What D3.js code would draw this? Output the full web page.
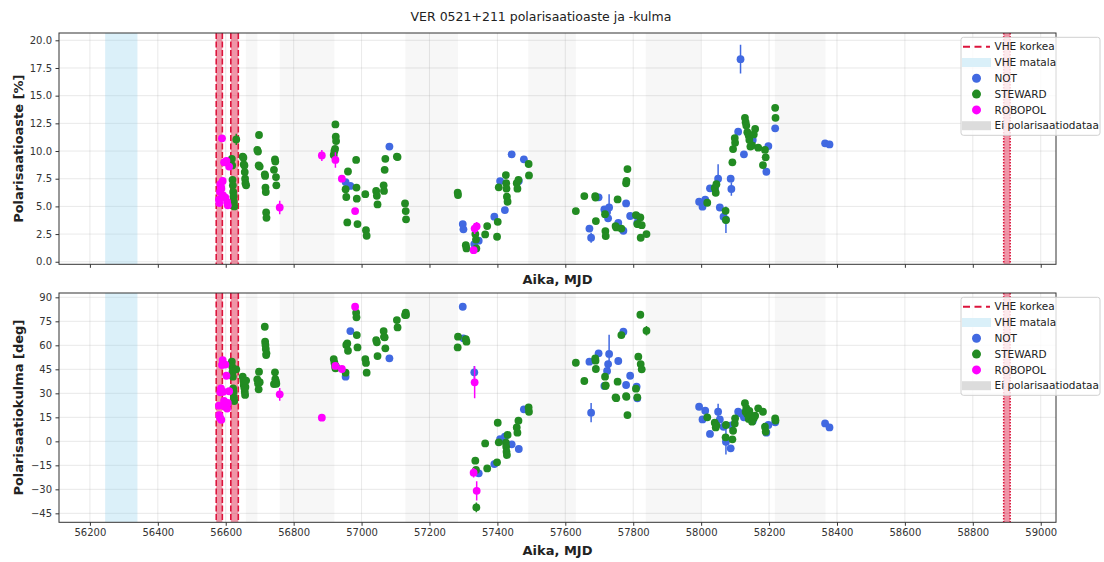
<!DOCTYPE html>
<html><head><meta charset="utf-8">
<script src="https://cdn.jsdelivr.net/npm/d3@7/dist/d3.min.js"></script>
<style>body{margin:0;background:#fff;} svg{display:block;font-family:"DejaVu Sans",sans-serif;}</style>
</head><body><svg id="c" width="1104" height="562"></svg>
<script>
// ---------- DATA ----------
const title = "VER 0521+211 polarisaatioaste ja -kulma";
const xTicks = d3.range(56200, 59001, 200);
const pdTicks = [0, 2.5, 5, 7.5, 10, 12.5, 15, 17.5, 20];
const paTicks = [-45, -30, -15, 0, 15, 30, 45, 60, 75, 90];
const vheHigh = [[56572, 56590], [56615, 56637], [58891, 58910]];
const vheLow = [[56245, 56340]];
const noData = [[56659, 56693], [56759, 56883], [56883, 56920], [57129, 57284], [57491, 57631], [57837, 57998], [58217, 58366]];
// rows: [MJD, pol. degree %, err, pol. angle deg, err]
const notData = [
 [56953,7.2,0.2,40.4,1.5],[56967,6.85,0.2,68.9,1.5],[57082,10.4,0.2,51.9,1.5],
 [57298,3.4,0.2,84.1,2],[57300,2.93,0.2,64.4,2],[57332,1.6,0.3,43.1,4],[57345,1.9,0.2,-20,2],
 [57391,4.07,0.2,-14.2,1.5],[57408,7.29,0.2,1.4,1.5],[57422,4.67,0.2,2.9,1.5],[57442,9.7,0.2,-1.9,1.5],
 [57463,7.3,0.2,-4.8,1.5],[57478,9.25,0.2,20,1.5],[57671,3.0,0.2,49.8,1.5],[57676,2.17,0.45,17.9,6],
 [57698,5.82,0.2,55,1.5],[57715,4.73,0.3,34.6,2],[57723,4.5,0.3,44,2],[57726,3.92,0.3,48.3,2],
 [57729,4.9,1.2,54.6,12],[57756,3.52,0.2,50.2,1.5],[57771,2.8,0.2,68.5,2],[57779,5.27,0.2,35.2,1.5],
 [57791,4.13,0.2,41,1.5],[57810,4.13,0.2,34.1,1.5],[57812,3.5,0.2,26.9,1.5],
 [57994,5.42,0.2,21.6,1.5],[58004,4.97,0.2,13.7,1.5],[58012,5.6,0.2,19.1,1.5],[58026,6.63,0.2,4.6,1.5],
 [58050,7.5,1.3,18.5,5],[58055,4.9,0.2,13.7,1.5],[58066,4.07,0.2,9.1,1.5],[58073,3.8,1.2,-0.3,8],
 [58087,7.5,0.3,-4.4,1.5],[58089,6.57,0.6,10,2],[58109,11.75,0.2,18.5,1.5],[58116,18.3,1.3,17.5,2],
 [58126,9.7,0.2,15,1.5],[58152,11.0,0.2,12.7,1.5],[58192,8.13,0.2,5.4,1.5],[58198,10.45,0.2,10.2,1.5],
 [58218,12.05,0.2,11.9,1.5],[58365,10.7,0.2,11.2,1.5],[58378,10.6,0.2,8.7,1.5]
];
const stewardData = [
 [56618,9.3,0.2,49.8,1.5],[56619,8.7,0.2,46.7,1.5],[56620,7.4,0.2,43.5,1.5],[56621,6.9,0.2,40.4,1.5],
 [56622,6.3,0.2,33.1,1.5],[56623,5.9,0.2,31.0,1.5],[56624,5.4,0.2,27.5,1.5],[56625,5.0,0.2,25.2,1.5],
 [56631,11.05,0.5,45,1.5],
 [56650,9.5,0.2,40.4,1.5],[56652,9.4,0.2,37.9,1.5],[56653,8.8,0.2,35.2,1.5],[56655,8.7,0.2,33.1,1.5],
 [56656,8.1,0.2,31.0,1.5],[56657,7.5,0.2,29.0,1.5],[56658,7.1,0.2,34,1.5],[56660,6.9,0.2,38,1.5],
 [56693,10.1,0.2,38.7,1.5],[56695,9.95,0.2,36.2,1.5],[56697,8.7,0.2,32.5,1.5],[56698,11.45,0.2,43.5,1.5],
 [56700,8.6,0.2,37,1.5],[56715,7.9,0.2,71.6,1.5],[56716,7.75,0.2,62.3,1.5],[56717,6.7,0.2,60.2,1.5],
 [56718,6.3,0.2,57.7,1.5],[56719,4.45,0.2,53.9,1.5],[56720,3.97,0.2,55,1.5],
 [56742,8.3,0.2,35.8,1.5],[56745,9.25,0.2,43.1,1.5],[56746,9.05,0.2,38.8,1.5],[56748,7.65,0.2,37.3,1.5],
 [56749,6.9,0.2,36,1.5],
 [56918,9.65,0.2,51.4,1.5],[56920,10.0,0.2,49.1,1.5],[56922,10.2,0.2,47.3,1.5],[56923,12.4,0.2,45.6,1.5],
 [56924,11.3,0.2,47,1.5],[56925,10.9,0.2,46,1.5],
 [56953,6.55,0.2,42.9,1.5],[56955,5.85,0.2,60.2,1.5],[56958,3.55,0.2,61.2,1.5],[56960,8.15,0.2,56.6,1.5],
 [56984,9.2,0.2,80.4,1.5],[56985,6.7,0.2,77.5,1.5],[56986,5.7,0.2,66.4,1.5],[56988,3.4,0.2,58.7,1.5],
 [57011,6.1,0.2,51.4,1.5],[57013,2.85,0.2,49.0,1.5],[57015,2.35,0.2,42.9,1.5],
 [57043,6.4,0.2,63.3,1.5],[57045,5.95,0.2,61.9,1.5],[57047,5.18,0.2,53.3,1.5],
 [57065,6.9,0.2,68.9,1.5],[57066,6.4,0.2,65.3,1.5],[57068,8.3,0.2,65,1.5],[57070,9.3,0.2,58.1,1.5],
 [57104,9.5,0.2,75.8,1.5],[57106,9.45,0.2,71.2,1.5],
 [57128,5.27,0.2,78.9,1.5],[57130,4.58,0.2,80.4,1.5],[57131,3.83,0.2,79,1.5],
 [57283,6.23,0.2,58.7,1.5],[57284,6.03,0.2,65.4,1.5],[57307,1.5,0.2,63.8,1.5],[57309,1.2,0.2,62.3,1.5],
 [57335,2.5,0.2,-12.1,1.5],[57337,2.0,0.2,-17.9,1.5],[57338,1.2,0.2,-41.3,3],
 [57364,2.47,0.2,-1.3,1.5],[57370,3.22,0.2,-16.9,1.5],[57399,2.26,0.2,-13.1,1.5],[57401,3.61,0.2,11.6,1.5],
 [57404,6.72,0.2,-0.6,1.5],[57425,7.83,0.2,-0.9,1.5],[57426,7.1,0.2,-3.4,1.5],[57427,6.6,0.2,-6.5,1.5],
 [57428,5.87,0.2,-8.6,1.5],[57430,5.42,0.2,4,1.5],[57457,7.1,0.2,8.7,1.5],[57459,6.6,0.2,5.4,1.5],
 [57462,7.4,0.2,12.9,1.5],[57492,8.83,0.2,21.2,1.5],[57493,7.8,0.2,18.5,1.5],
 [57631,4.58,0.2,49.1,1.5],[57656,5.93,0.2,37.7,1.5],[57688,5.93,0.2,51.9,1.5],[57689,5.8,0.2,50.4,1.5],
 [57690,3.67,0.2,45.2,1.5],[57717,4.3,0.2,40.4,1.5],[57718,2.77,0.2,34.6,1.5],[57719,2.32,0.2,35,1.5],
 [57748,3.22,0.2,27.5,1.5],[57750,3.1,0.2,27,1.5],[57754,5.63,0.2,37.3,1.5],[57765,3.0,0.2,66.4,1.5],
 [57779,7.08,0.2,28.3,1.5],[57780,7.3,0.2,27.8,1.5],[57783,8.37,0.2,16.4,1.5],
 [57808,4.22,0.2,32.9,1.5],[57812,3.4,0.2,27.5,1.5],[57815,3.4,0.2,52.9,1.5],[57821,4.0,0.2,79.1,1.5],
 [57822,2.17,0.2,48.3,1.5],[57825,3.3,0.2,45.0,1.5],[57839,2.5,0.2,69.1,3],
 [58018,5.33,0.2,15.0,1.5],[58040,6.66,0.2,11.6,1.5],[58043,6.23,0.2,8.7,1.5],[58045,7.0,0.2,10,1.5],
 [58072,4.6,0.2,2.5,1.5],[58073,3.77,0.2,10.2,1.5],[58092,8.98,0.2,1.25,1.5],[58094,10.18,0.2,6.6,1.5],
 [58099,11.17,0.2,11.2,1.5],[58100,10.75,0.2,14.4,1.5],
 [58129,13.0,0.2,23.8,1.5],[58131,12.6,0.2,18.5,1.5],[58133,12.3,0.2,20.8,1.5],[58136,11.7,0.2,17,1.5],
 [58140,11.4,0.2,14,1.5],[58142,11.0,0.2,19,1.5],[58145,10.4,0.2,16,1.5],[58150,10.5,0.2,12.3,1.5],
 [58155,11.5,0.2,14.5,1.5],[58159,12.0,0.2,16,1.5],[58168,10.3,0.2,20.6,1.5],[58182,8.73,0.2,18.5,1.5],
 [58188,10.1,0.2,9.1,1.5],[58190,9.43,0.2,6,1.5],[58218,13.9,0.2,14.4,1.5],[58219,13.0,0.2,13,1.5]
];
const robopolData = [
 [56580,5.6,0.2,22.3,1.5],[56581,5.3,0.2,16.4,1.5],[56583,6.3,0.2,14.8,1.5],[56584,7.0,0.2,30.6,1.5],
 [56586,6.8,0.2,33.1,1.5],[56587,6.6,0.2,13.5,1.5],[56589,11.15,0.2,47.7,1.5],[56591,7.3,0.2,50.8,1.5],
 [56592,6.0,0.2,31,1.5],[56595,8.98,0.2,25.2,1.5],[56598,9.0,0.2,21.6,1.5],[56599,5.8,0.2,48,1.5],
 [56602,9.1,0.3,41.0,1.5],[56604,5.4,0.2,20.5,1.5],[56606,5.1,0.2,24,1.5],[56610,8.6,0.3,31.3,1.5],
 [56759,4.9,0.6,29.4,4],[56883,9.6,0.5,14.8,1.5],[56923,9.2,0.7,47.1,1.5],[56942,7.5,0.2,45.2,1.5],
 [56981,4.58,0.2,84.1,1.5],[57330,1.05,0.2,-19.6,3],[57333,3.0,0.5,36.9,10],[57339,3.2,0.4,-30.9,6]
];
const series = [
 {name: "NOT", color: "#4169e1", rows: notData},
 {name: "STEWARD", color: "#228b22", rows: stewardData},
 {name: "ROBOPOL", color: "#ff00ff", rows: robopolData}
];

// ---------- CHART ----------
const svg = d3.select("#c");
const L = 59, R = 1056;
const x = d3.scaleLinear().domain([56109, 59045]).range([L, R]);
const panels = [
 {top: 33, bottom: 264.3, y: d3.scaleLinear().domain([-0.23, 20.66]).range([264.3, 33]),
  ticks: pdTicks, fmt: d3.format(".1f"), col: 1, ecol: 2, label: "Polarisaatioaste [%]", showX: false, xlabY: 284},
 {top: 293, bottom: 522.3, y: d3.scaleLinear().domain([-50.6, 92.7]).range([522.3, 293]),
  ticks: paTicks, fmt: d => (d < 0 ? "\u2212" + Math.abs(d) : "" + d), col: 3, ecol: 4, label: "Polarisaatiokulma [deg]", showX: true, xlabY: 555}
];

svg.append("text").attr("x", 541).attr("y", 21).attr("text-anchor", "middle")
  .attr("font-size", 12.5).attr("fill", "#222").text(title);

panels.forEach((p, i) => {
  const g = svg.append("g");
  const clipId = "clip" + i;
  svg.append("clipPath").attr("id", clipId).append("rect")
    .attr("x", L).attr("y", p.top).attr("width", R - L).attr("height", p.bottom - p.top);
  const inner = g.append("g").attr("clip-path", `url(#${clipId})`);
  // grid
  inner.selectAll(".gx").data(xTicks).join("line")
    .attr("x1", d => x(d)).attr("x2", d => x(d)).attr("y1", p.top).attr("y2", p.bottom)
    .attr("stroke", "#b0b0b0").attr("stroke-opacity", 0.35).attr("stroke-width", 0.8);
  inner.selectAll(".gy").data(p.ticks).join("line")
    .attr("x1", L).attr("x2", R).attr("y1", d => p.y(d)).attr("y2", d => p.y(d))
    .attr("stroke", "#b0b0b0").attr("stroke-opacity", 0.35).attr("stroke-width", 0.8);
  // bands
  inner.selectAll(".nd").data(noData).join("rect")
    .attr("x", d => x(d[0])).attr("width", d => x(d[1]) - x(d[0]))
    .attr("y", p.top).attr("height", p.bottom - p.top).attr("fill", "#808080").attr("fill-opacity", 0.065);
  inner.selectAll(".vl").data(vheLow).join("rect")
    .attr("x", d => x(d[0])).attr("width", d => x(d[1]) - x(d[0]))
    .attr("y", p.top).attr("height", p.bottom - p.top).attr("fill", "#87ceeb").attr("fill-opacity", 0.3);
  vheHigh.forEach((d, k) => {
    inner.append("rect").attr("x", x(d[0])).attr("width", x(d[1]) - x(d[0]))
      .attr("y", p.top).attr("height", p.bottom - p.top).attr("fill", "#dc143c").attr("fill-opacity", 0.45);
    const dash = k < 2 ? "6,2.5" : "1.5,1.5";
    [d[0], d[1]].forEach(v => {
      inner.append("line").attr("x1", x(v)).attr("x2", x(v)).attr("y1", p.top).attr("y2", p.bottom)
        .attr("stroke", "#dc143c").attr("stroke-width", 1.6).attr("stroke-dasharray", dash);
    });
  });
  // data
  series.forEach(s => {
    const sg = inner.append("g");
    sg.selectAll("line").data(s.rows).join("line")
      .attr("x1", d => x(d[0])).attr("x2", d => x(d[0]))
      .attr("y1", d => p.y(d[p.col] - d[p.ecol])).attr("y2", d => p.y(d[p.col] + d[p.ecol]))
      .attr("stroke", s.color).attr("stroke-width", 1.5);
    sg.selectAll("circle").data(s.rows).join("circle")
      .attr("cx", d => x(d[0])).attr("cy", d => p.y(d[p.col])).attr("r", 3.9).attr("fill", s.color);
  });
  // axes
  const ax = d3.axisBottom(x).tickValues(xTicks).tickSize(3.5).tickPadding(3.5)
    .tickFormat(p.showX ? d3.format("d") : "");
  const gxAx = g.append("g").attr("transform", `translate(0,${p.bottom})`).call(ax);
  const ay = d3.axisLeft(p.y).tickValues(p.ticks).tickSize(3.5).tickPadding(3.5).tickFormat(p.fmt);
  const gyAx = g.append("g").attr("transform", `translate(${L},0)`).call(ay);
  [gxAx, gyAx].forEach(a => {
    a.select(".domain").remove();
    a.selectAll("text").attr("font-size", 10).attr("fill", "#333").attr("font-family", "DejaVu Sans");
    a.selectAll("line").attr("stroke", "#333");
  });
  g.append("rect").attr("x", L).attr("y", p.top).attr("width", R - L).attr("height", p.bottom - p.top)
    .attr("fill", "none").attr("stroke", "#333").attr("stroke-width", 1);
  // labels
  g.append("text").attr("x", (L + R) / 2).attr("y", p.xlabY).attr("text-anchor", "middle")
    .attr("font-size", 13).attr("font-weight", "bold").attr("fill", "#222").text("Aika, MJD");
  g.append("text").attr("transform", `translate(23,${(p.top + p.bottom) / 2}) rotate(-90)`)
    .attr("text-anchor", "middle").attr("font-size", 13).attr("font-weight", "bold").attr("fill", "#222").text(p.label);
  // legend
  const lg = g.append("g").attr("transform", `translate(961,${p.top + 4.3})`);
  lg.append("rect").attr("width", 139).attr("height", 98).attr("rx", 2.5)
    .attr("fill", "#fff").attr("fill-opacity", 0.8).attr("stroke", "#d0d0d0");
  const items = [
    {t: "VHE korkea", k: "dash"}, {t: "VHE matala", k: "patch", c: "#daf0f9"},
    {t: "NOT", k: "dot", c: "#4169e1"}, {t: "STEWARD", k: "dot", c: "#228b22"},
    {t: "ROBOPOL", k: "dot", c: "#ff00ff"}, {t: "Ei polarisaatiodataa", k: "patch", c: "#dcdcdc"}
  ];
  items.forEach((it, j) => {
    const yy = 9.4 + j * 15.8;
    if (it.k === "dash") lg.append("line").attr("x1", 2).attr("x2", 29).attr("y1", yy).attr("y2", yy)
      .attr("stroke", "#dc143c").attr("stroke-width", 2).attr("stroke-dasharray", "7,4.5");
    if (it.k === "patch") lg.append("rect").attr("x", 1).attr("y", yy - 4.5).attr("width", 29).attr("height", 9).attr("fill", it.c);
    if (it.k === "dot") lg.append("circle").attr("cx", 15.5).attr("cy", yy).attr("r", 4.5).attr("fill", it.c);
    lg.append("text").attr("x", 33.5).attr("y", yy + 3.8).attr("font-size", 10.5).attr("fill", "#222").text(it.t);
  });
});
</script></body></html>
